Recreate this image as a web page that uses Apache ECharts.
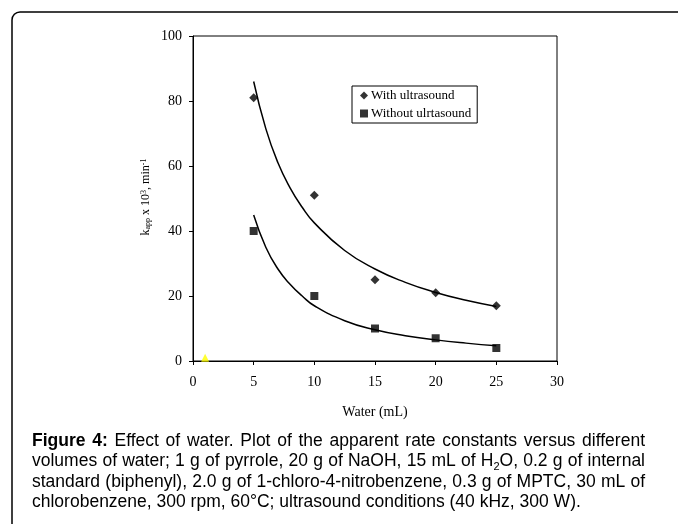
<!DOCTYPE html>
<html><head><meta charset="utf-8">
<script src="https://cdn.jsdelivr.net/npm/echarts@6/dist/echarts.min.js"></script>
<style>html,body{margin:0;padding:0;background:#fff}#c{width:678px;height:524px}</style>
</head><body><div id="c"></div>
<script>
var water = [5, 10, 15, 20, 25];
var withUltrasound = [81, 51, 25, 21, 17];
var withoutUltrasound = [40, 20, 10, 7, 4];
var markerPoint = [[1, 1]];
// trend curves
var curveX = [5, 6, 7, 8, 9, 10, 12.5, 15, 17.5, 20, 22.5, 25];
var curveWith = [86, 71.5, 61, 53.3, 47.3, 42.5, 34, 28.3, 24.2, 21.1, 18.7, 16.8];
var curveWithout = [44.9, 35, 28.3, 23.6, 20, 17, 12.4, 9.6, 7.8, 6.5, 5.5, 4.7];
var xTicks = [0, 5, 10, 15, 20, 25, 30];
var yTicks = [0, 20, 40, 60, 80, 100];
var captionLines = [
  'Figure 4:| Effect of water. Plot of the apparent rate constants versus different',
  'volumes of water; 1 g of pyrrole, 20 g of NaOH, 15 mL of H_2_O, 0.2 g of internal',
  'standard (biphenyl), 2.0 g of 1-chloro-4-nitrobenzene, 0.3 g of MPTC, 30 mL of',
  'chlorobenzene, 300 rpm, 60°C; ultrasound conditions (40 kHz, 300 W).'
];

function pairs(xs, ys) { return xs.map(function (x, i) { return [x, ys[i]]; }); }

var serif = '"Liberation Serif", "DejaVu Serif", serif';
var sans = '"Liberation Sans", Arial, sans-serif';
var capSize = 17.5, subSize = 11;

// caption layout (justified like the reference)
var cv = document.createElement('canvas').getContext('2d');
function runWidth(r) {
  cv.font = (r.b ? 'bold ' : '') + (r.sub ? subSize : capSize) + 'px ' + sans;
  return cv.measureText(r.t).width;
}
function parseWords(line) {
  var words = [];
  var boldPart = '', rest = line;
  if (line.indexOf('|') >= 0) { boldPart = line.split('|')[0]; rest = line.split('|')[1]; }
  if (boldPart) boldPart.split(' ').forEach(function (w) { words.push([{ t: w, b: true }]); });
  rest.trim().split(' ').forEach(function (w) {
    if (w.indexOf('_') >= 0) {
      var p = w.split('_');
      words.push([{ t: p[0] }, { t: p[1], sub: true }, { t: p[2] }]);
    } else words.push([{ t: w }]);
  });
  return words;
}
var capLeft = 32, capRight = 645, capY = [441, 461.5, 482, 502.5];
var captionGraphics = [];
captionLines.forEach(function (line, li) {
  var words = parseWords(line);
  var widths = words.map(function (w) { return w.reduce(function (s, r) { return s + runWidth(r); }, 0); });
  var total = widths.reduce(function (a, b) { return a + b; }, 0);
  cv.font = capSize + 'px ' + sans;
  var gap = cv.measureText(' ').width;
  if (li < captionLines.length - 1) gap = (capRight - capLeft - total) / (words.length - 1);
  var x = capLeft;
  words.forEach(function (w) {
    w.forEach(function (r) {
      captionGraphics.push({
        type: 'text', x: x, y: capY[li] + (r.sub ? 5 : 0), silent: true,
        style: { text: r.t, fill: '#000', verticalAlign: 'middle', align: 'left',
          font: (r.b ? 'bold ' : '') + (r.sub ? subSize : capSize) + 'px ' + sans }
      });
      x += runWidth(r);
    });
    x += gap;
  });
});

var chart = echarts.init(document.getElementById('c'));
chart.setOption({
  animation: false,
  backgroundColor: '#fff',
  grid: { left: 193, top: 36, right: 121, bottom: 163, show: true, borderColor: '#000', borderWidth: 1 },
  xAxis: {
    type: 'value', min: xTicks[0], max: xTicks[xTicks.length - 1], interval: 5,
    axisLine: { lineStyle: { color: '#000', width: 1 } },
    axisTick: { show: true, length: 4, lineStyle: { color: '#000' } },
    splitLine: { show: false },
    axisLabel: { color: '#000', fontFamily: serif, fontSize: 14, margin: 14 },
    name: 'Water (mL)', nameLocation: 'middle', nameGap: 44,
    nameTextStyle: { color: '#000', fontFamily: serif, fontSize: 14 }
  },
  yAxis: {
    type: 'value', min: yTicks[0], max: yTicks[yTicks.length - 1], interval: 20,
    axisLine: { show: true, lineStyle: { color: '#000', width: 1 } },
    axisTick: { show: true, length: 4, lineStyle: { color: '#000' } },
    splitLine: { show: false },
    axisLabel: { color: '#000', fontFamily: serif, fontSize: 14, margin: 11 }
  },
  legend: {
    orient: 'vertical', left: 352, top: 86,
    data: [
      { name: 'With ultrasound', icon: 'diamond' },
      { name: 'Without ulrtasound', icon: 'rect' }
    ],
    itemWidth: 8, itemHeight: 8, itemGap: 5,
    borderColor: '#000', borderWidth: 1, borderRadius: 0,
    padding: [3, 6, 3, 8],
    textStyle: { color: '#000', fontFamily: serif, fontSize: 13, padding: [0, 0, 0, -2] }
  },
  series: [
    { name: 'With ultrasound', type: 'scatter', symbol: 'diamond', symbolSize: 9,
      itemStyle: { color: '#000' }, data: pairs(water, withUltrasound), z: 5 },
    { name: 'Without ulrtasound', type: 'scatter', symbol: 'rect', symbolSize: 8,
      itemStyle: { color: '#000' }, data: pairs(water, withoutUltrasound), z: 5 },
    { name: 'trend1', type: 'line', smooth: true, showSymbol: false, symbol: 'none',
      lineStyle: { color: '#000', width: 1.5 }, data: pairs(curveX, curveWith) },
    { name: 'trend2', type: 'line', smooth: true, showSymbol: false, symbol: 'none',
      lineStyle: { color: '#000', width: 1.5 }, data: pairs(curveX, curveWithout) },
    { name: 'marker', type: 'scatter', symbol: 'triangle', symbolSize: 8,
      itemStyle: { color: '#ffff00' }, data: markerPoint }
  ],
  graphic: [
    { type: 'rect', shape: { x: 12, y: 12, width: 720, height: 600, r: 8 },
      style: { fill: 'none', stroke: '#000', lineWidth: 1.5 }, silent: true },
    { type: 'text', x: 146, y: 197, rotation: Math.PI / 2,
      style: {
        text: 'k{sub|app} x 10{sup|3}, min{sup|-1}',
        fill: '#000', font: '12px ' + serif, align: 'center', verticalAlign: 'middle',
        rich: {
          sub: { fontSize: 8, fontFamily: serif, fill: '#000', verticalAlign: 'bottom', lineHeight: 8, padding: [6, 0, 0, 0] },
          sup: { fontSize: 8, fontFamily: serif, fill: '#000', verticalAlign: 'top', lineHeight: 8, padding: [0, 0, 6, 0] }
        }
      } }
  ].concat(captionGraphics)
});
</script></body></html>
